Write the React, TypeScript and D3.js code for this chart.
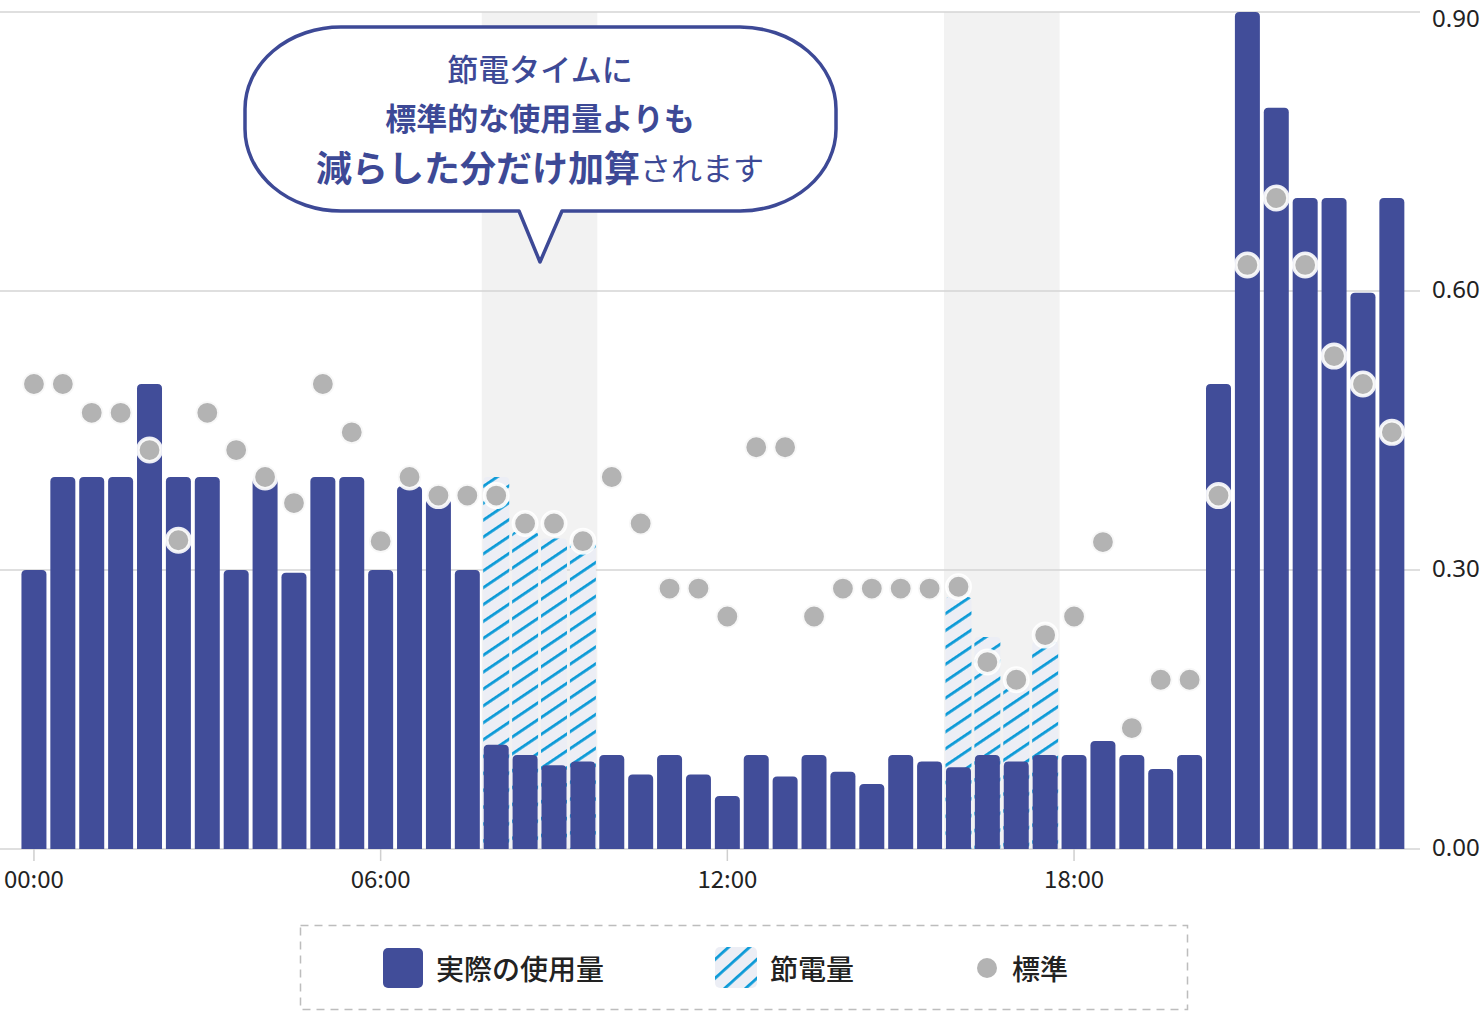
import * as d3 from 'd3'
import { useEffect, useRef } from 'react'

// half-hour slots
const times = [
  '00:00', '00:30', '01:00', '01:30', '02:00', '02:30', '03:00', '03:30',
  '04:00', '04:30', '05:00', '05:30', '06:00', '06:30', '07:00', '07:30',
  '08:00', '08:30', '09:00', '09:30', '10:00', '10:30', '11:00', '11:30',
  '12:00', '12:30', '13:00', '13:30', '14:00', '14:30', '15:00', '15:30',
  '16:00', '16:30', '17:00', '17:30', '18:00', '18:30', '19:00', '19:30',
  '20:00', '20:30', '21:00', '21:30', '22:00', '22:30', '23:00', '23:30',
]

// actual usage (kWh)
const usage = [
  0.30, 0.40, 0.40, 0.40, 0.50, 0.40, 0.40, 0.30,
  0.40, 0.297, 0.40, 0.40, 0.30, 0.39, 0.376, 0.30,
  0.112, 0.101, 0.090, 0.094, 0.101, 0.080, 0.101, 0.080,
  0.057, 0.101, 0.078, 0.101, 0.083, 0.070, 0.101, 0.094,
  0.088, 0.101, 0.094, 0.101, 0.101, 0.116, 0.101, 0.086,
  0.101, 0.50, 0.90, 0.797, 0.70, 0.70, 0.598, 0.70,
]

// saved amount, stacked on top of the actual usage
const saving = [
  0, 0, 0, 0, 0, 0, 0, 0,
  0, 0, 0, 0, 0, 0, 0, 0,
  0.288, 0.240, 0.244, 0.236, 0, 0, 0, 0,
  0, 0, 0, 0, 0, 0, 0, 0,
  0.183, 0.127, 0.088, 0.122, 0, 0, 0, 0,
  0, 0, 0, 0, 0, 0, 0, 0,
]

// standard usage
const standard = [
  0.50, 0.50, 0.469, 0.469, 0.429, 0.332, 0.469, 0.429,
  0.40, 0.372, 0.50, 0.448, 0.331, 0.40, 0.38, 0.38,
  0.38, 0.35, 0.35, 0.331, 0.40, 0.35, 0.28, 0.28,
  0.25, 0.432, 0.432, 0.25, 0.28, 0.28, 0.28, 0.28,
  0.282, 0.201, 0.182, 0.230, 0.25, 0.33, 0.13, 0.182,
  0.182, 0.38, 0.628, 0.70, 0.628, 0.53, 0.50, 0.448,
]

const savingWindows = [['08:00', '09:30'], ['16:00', '17:30']]
const xTicks = ['00:00', '06:00', '12:00', '18:00']
const yTicks = [0, 0.3, 0.6, 0.9]

const legendItems = ['実際の使用量', '節電量', '標準']
const bubbleLines = ['節電タイムに', '標準的な使用量よりも']
const bubbleStrong = '減らした分だけ加算'
const bubbleTail = 'されます'

const width = 1481
const height = 1011
const blue = '#414d99'
const ink = '#3d4996'
const jp = '"Noto Sans CJK JP", "Noto Sans", sans-serif'

function topRounded(x: number, y: number, w: number, h: number, r: number) {
  const rr = Math.min(r, h, w / 2)
  return `M${x},${y + h}V${y + rr}Q${x},${y} ${x + rr},${y}H${x + w - rr}Q${x + w},${y} ${x + w},${y + rr}V${y + h}Z`
}

export default function App() {
  const svgRef = useRef(null)

  useEffect(() => {
    const svg = d3.select(svgRef.current)
    svg.selectAll('*').remove()

    const x = d3.scaleBand<string>()
      .domain(times)
      .range([19.5, 1406.3])
      .paddingInner(0.135)
      .paddingOuter(0.0675)
    const y = d3.scaleLinear().domain([0, 0.9]).range([849, 12])
    const bw = x.bandwidth()
    const gap = (x.step() - bw) / 2

    const defs = svg.append('defs')
    const mkHatch = (id: string, angle: number) => {
      const p = defs.append('pattern')
        .attr('id', id)
        .attr('patternUnits', 'userSpaceOnUse')
        .attr('width', 14)
        .attr('height', 14)
        .attr('patternTransform', `rotate(${angle})`)
      p.append('rect').attr('width', 14).attr('height', 14).attr('fill', '#eceef5')
      p.append('rect').attr('width', 14).attr('height', 2.8).attr('fill', '#0b9ad7')
    }
    mkHatch('hatch', -34)
    mkHatch('hatch-legend', -42)

    // saving time windows
    svg.append('g')
      .selectAll('rect')
      .data(savingWindows)
      .enter()
      .append('rect')
      .attr('x', d => x(d[0])! - gap)
      .attr('y', y(0.9))
      .attr('width', d => x(d[1])! + bw + gap - (x(d[0])! - gap))
      .attr('height', y(0) - y(0.9))
      .attr('fill', '#f2f2f2')

    // grid
    svg.append('g')
      .selectAll('line')
      .data(yTicks)
      .enter()
      .append('line')
      .attr('x1', 0)
      .attr('x2', 1420)
      .attr('y1', d => y(d))
      .attr('y2', d => y(d))
      .attr('stroke', '#d4d4d4')
      .attr('stroke-width', 1.5)

    // right axis labels
    const yAxis = d3.axisRight(y).tickValues(yTicks).tickSize(0).tickPadding(12).tickFormat(d3.format('.2f'))
    const ya = svg.append('g').attr('transform', 'translate(1420,0)').call(yAxis)
    ya.select('.domain').remove()
    ya.selectAll('text')
      .style('font-family', '"Noto Sans", sans-serif')
      .style('font-size', '24px')
      .attr('fill', '#222')
      .attr('dy', (d: any) => (d === 0.9 ? '0.62em' : '0.25em'))

    // x axis
    const xAxis = d3.axisBottom(x).tickValues(xTicks).tickSize(12).tickPadding(10)
    const xa = svg.append('g').attr('transform', `translate(0,${y(0)})`).call(xAxis)
    xa.select('.domain').remove()
    xa.selectAll('line').attr('stroke', '#cfcfcf').attr('stroke-width', 1.5)
    xa.selectAll('text')
      .style('font-family', jp)
      .style('font-size', '24px')
      .attr('fill', '#222')

    const idx = d3.range(times.length)

    // saved amount (hatched)
    svg.append('g')
      .selectAll('path')
      .data(idx.filter(i => saving[i] > 0))
      .enter()
      .append('path')
      .attr('d', i => topRounded(x(times[i])! - 0.5, y(usage[i] + saving[i]), bw + 1, y(0) - y(usage[i] + saving[i]), 4))
      .attr('fill', 'url(#hatch)')

    // actual usage
    svg.append('g')
      .selectAll('path')
      .data(idx)
      .enter()
      .append('path')
      .attr('d', i => topRounded(x(times[i])!, y(usage[i]), bw, y(0) - y(usage[i]), 4.5))
      .attr('fill', blue)

    // standard dots
    svg.append('g')
      .selectAll('circle')
      .data(idx)
      .enter()
      .append('circle')
      .attr('cx', i => x(times[i])! + bw / 2)
      .attr('cy', i => y(standard[i]))
      .attr('r', 11.7)
      .attr('fill', '#b3b3b3')
      .attr('stroke', '#fff')
      .attr('stroke-opacity', 0.9)
      .attr('stroke-width', 3.6)

    // callout bubble
    const L = 245, R = 836, T = 27, B = 211, rx = 96, ry = 82
    const bubble = `M${L + rx},${T}H${R - rx}A${rx},${ry} 0 0 1 ${R},${T + ry}V${B - ry}A${rx},${ry} 0 0 1 ${R - rx},${B}` +
      `H562L540,262L519,${B}H${L + rx}A${rx},${ry} 0 0 1 ${L},${B - ry}V${T + ry}A${rx},${ry} 0 0 1 ${L + rx},${T}Z`
    svg.append('path')
      .attr('d', bubble)
      .attr('fill', '#fff')
      .attr('stroke', ink)
      .attr('stroke-width', 3.5)
      .attr('stroke-linejoin', 'round')

    const bt = svg.append('g')
      .attr('fill', ink)
      .style('font-family', jp)
      .attr('text-anchor', 'middle')
    bt.append('text')
      .attr('x', 540).attr('y', 67)
      .attr('dominant-baseline', 'central')
      .style('font-size', '31px').style('font-weight', 500)
      .text(bubbleLines[0])
    bt.append('text')
      .attr('x', 540).attr('y', 116)
      .attr('dominant-baseline', 'central')
      .style('font-size', '31px').style('font-weight', 700)
      .text(bubbleLines[1])
    const l3 = bt.append('text')
      .attr('x', 540).attr('y', 166)
      .attr('dominant-baseline', 'central')
    l3.append('tspan').style('font-size', '36px').style('font-weight', 700).text(bubbleStrong)
    l3.append('tspan').style('font-size', '31px').style('font-weight', 400).text(bubbleTail)

    // legend
    const lg = svg.append('g')
    lg.append('rect')
      .attr('x', 300.5).attr('y', 925.5)
      .attr('width', 887).attr('height', 84)
      .attr('fill', 'none')
      .attr('stroke', '#bdbdbd')
      .attr('stroke-width', 1.5)
      .attr('stroke-dasharray', '8 6')
    lg.append('rect')
      .attr('x', 383).attr('y', 948).attr('width', 40).attr('height', 40).attr('rx', 5)
      .attr('fill', blue)
    lg.append('rect')
      .attr('x', 715).attr('y', 947).attr('width', 42).attr('height', 41).attr('rx', 5)
      .attr('fill', 'url(#hatch-legend)')
    lg.append('circle')
      .attr('cx', 987).attr('cy', 968).attr('r', 10)
      .attr('fill', '#b3b3b3')
    const labelX = [436, 770, 1012]
    lg.selectAll('text.lbl')
      .data(legendItems)
      .enter()
      .append('text')
      .attr('class', 'lbl')
      .attr('x', (_, i) => labelX[i])
      .attr('y', 968)
      .attr('dominant-baseline', 'central')
      .attr('fill', '#222')
      .style('font-family', jp)
      .style('font-size', '28px')
      .style('font-weight', 500)
      .text(d => d)
  }, [svgRef])

  return (
    <div style={{ position: 'absolute', left: 0, top: 0 }}>
      <svg ref={svgRef} width={width} height={height} style={{ display: 'block' }}></svg>
    </div>
  )
}
